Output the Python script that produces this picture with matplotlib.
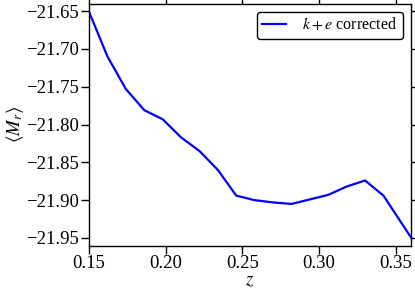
import matplotlib
matplotlib.use("Agg")
import matplotlib.pyplot as plt

z = [0.150, 0.162, 0.174, 0.186, 0.198, 0.210, 0.222, 0.234, 0.246,
     0.258, 0.270, 0.282, 0.294, 0.306, 0.318, 0.330, 0.342, 0.3605]
mr = [-21.651, -21.710, -21.753, -21.781, -21.793, -21.817, -21.835, -21.860, -21.894,
      -21.900, -21.903, -21.905, -21.899, -21.893, -21.882, -21.874, -21.894, -21.951]
xticks = [0.15, 0.20, 0.25, 0.30, 0.35]
yticks = [-21.65, -21.70, -21.75, -21.80, -21.85, -21.90, -21.95]

plt.rcParams['font.family'] = ['Liberation Serif', 'DejaVu Serif']
plt.rcParams['mathtext.fontset'] = 'stix'
plt.rcParams['axes.unicode_minus'] = True

fig = plt.figure(figsize=(4.15, 2.93), dpi=100)
ax = fig.add_axes([0.2145, 0.162, 0.776, 0.826])
ax.plot(z, mr, color='blue', lw=1.6, label=r'$k+e$ corrected')
ax.set_xlim(0.15, 0.36)
ax.set_ylim(-21.96, -21.64)
ax.set_xticks(xticks)
ax.set_xticklabels([f"{t:.2f}" for t in xticks])
ax.set_yticks(yticks)
ax.set_yticklabels([f"\u2212{abs(t):.2f}" for t in yticks])
ax.tick_params(direction='out', length=6, width=1, labelsize=13.5,
               top=True, right=True, pad=1)
for s in ax.spines.values():
    s.set_linewidth(1.0)
ax.set_xlabel(r'$z$', fontsize=13.5, labelpad=0)
ax.set_ylabel(r'$\langle M_r\rangle$', fontsize=13.5, labelpad=0)
leg = ax.legend(loc='upper right', fontsize=11.5, fancybox=True, framealpha=1,
                edgecolor='black', handlelength=1.5, handletextpad=1.0,
                borderpad=0.35, bbox_to_anchor=(1.0, 1.0))
leg.get_frame().set_linewidth(1.0)
fig.savefig('out.png', dpi=100)
